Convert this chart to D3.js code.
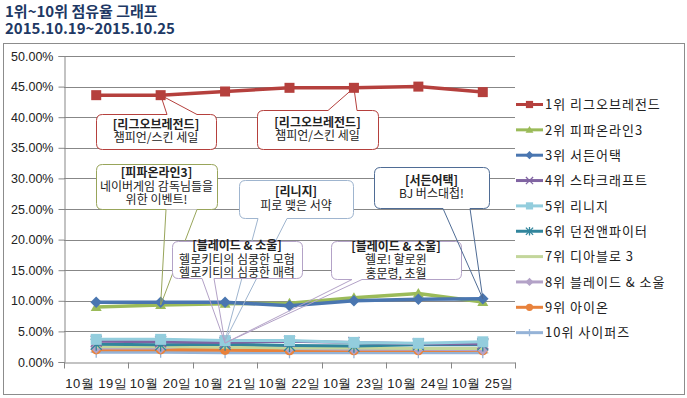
<!DOCTYPE html>
<html>
<head>
<meta charset="utf-8">
<title>1위~10위 점유율 그래프</title>
<script src="https://d3js.org/d3.v7.min.js"></script>
<style>
  body { margin: 0; background: #fff; }
  svg { display: block; font-family: "Noto Sans CJK KR", "Noto Sans", sans-serif; }
</style>
</head>
<body>
<div id="chart"></div>
<script>
// categories (x axis)
const days = ["10월 19일", "10월 20일", "10월 21일", "10월 22일", "10월 23일", "10월 24일", "10월 25일"];

// series names, top 10 games
const names = ["1위 리그오브레전드", "2위 피파온라인3", "3위 서든어택", "4위 스타크래프트", "5위 리니지",
               "6위 던전앤파이터", "7위 디아블로 3", "8위 블레이드 & 소울", "9위 아이온", "10위 사이퍼즈"];

// share values in percent
const lol       = [43.6, 43.6, 44.2, 44.8, 44.8, 45.0, 44.1];
const fifa      = [9.0, 9.3, 9.5, 9.6, 10.5, 11.2, 9.8];
const sudden    = [9.75, 9.75, 9.75, 9.2, 10.0, 10.25, 10.35];
const starcraft = [3.4, 3.3, 3.2, 3.4, 3.2, 3.0, 3.0];
const lineage   = [3.7, 3.7, 3.5, 3.5, 3.2, 3.05, 3.3];
const dnf       = [2.9, 2.8, 2.9, 2.7, 2.6, 2.8, 2.8];
const diablo    = [2.5, 2.5, 2.4, 2.3, 2.3, 2.2, 2.2];
const bns       = [2.3, 2.3, 3.1, 2.2, 2.1, 2.1, 2.0];
const aion      = [2.05, 2.05, 1.95, 1.9, 1.9, 1.9, 1.9];
const cyphers   = [1.6, 1.6, 1.5, 1.5, 1.5, 1.5, 1.5];

const values = [lol, fifa, sudden, starcraft, lineage, dnf, diablo, bns, aion, cyphers];

// y tick values (percent)
const yTicks = [0, 5, 10, 15, 20, 25, 30, 35, 40, 45, 50];

// callout notes: which series / day they point to and their text
const notes = [
  { s: 0, i: 1, lines: ["[리그오브레전드]", "챔피언/스킨 세일"] },
  { s: 0, i: 4, lines: ["[리그오브레전드]", "챔피언/스킨 세일"] },
  { s: 1, i: 1, lines: ["[피파온라인3]", "네이버게임 감독님들을", "위한 이벤트!"] },
  { s: 4, i: 2, lines: ["[리니지]", "피로 맺은 서약"] },
  { s: 7, i: 2, lines: ["[블레이드 & 소울]", "헬로키티의 심쿵한 모험", "헬로키티의 심쿵한 매력"] },
  { s: 7, i: 2, lines: ["[블레이드 & 소울]", "헬로! 할로윈", "홍문령, 초월"] },
  { s: 2, i: 6, lines: ["[서든어택]", "BJ 버스대첩!"] }
];

// ---- styling / layout ----
const colors = ["#b5403d", "#9bbb59", "#4a76b0", "#8064a2", "#93cddd", "#31859c", "#c3d69b", "#b3a2c7", "#e8823c", "#95b3d7"];
const markers = ["square", "triangle", "diamond", "x", "square", "asterisk", null, "diamond", "circle", "plus"];
const noteColors = ["#b5403d", "#b5403d", "#98a55a", "#9fb5cf", "#b3a2c7", "#b3a2c7", "#4f6c95"];
// box: x, y, w, h; base: the two x positions where the pointer leaves the edge; edge: top/bottom
const noteBoxes = [
  { x: 96, y: 114, w: 120, h: 35, edge: "top", base: [167, 197] },
  { x: 257, y: 110, w: 121, h: 39, edge: "top", base: [328, 357] },
  { x: 96, y: 164, w: 121, h: 45, edge: "bottom", base: [166, 197] },
  { x: 239, y: 180, w: 114, h: 38, edge: "bottom", base: [258, 287] },
  { x: 172, y: 241, w: 130, h: 37, edge: "bottom", base: [202, 214] },
  { x: 331, y: 241, w: 130, h: 38, edge: "bottom", base: [352, 362] },
  { x: 374, y: 167, w: 115, h: 41, edge: "bottom", base: [443, 470] }
];

const W = 687, H = 398;
const plot = { left: 64, right: 515, top: 56, bottom: 362 };

const svg = d3.select("#chart").append("svg")
  .attr("width", W).attr("height", H);

svg.append("rect").attr("width", W).attr("height", H).attr("fill", "#fff");

// title
const title = svg.append("g").attr("fill", "#203864").attr("font-weight", "bold").attr("font-size", 15);
title.append("text").attr("x", 5).attr("y", 17).text("1위~10위 점유율 그래프");
title.append("text").attr("x", 5).attr("y", 34).text("2015.10.19~2015.10.25");

// chart frame
svg.append("rect")
  .attr("x", 3.5).attr("y", 43.5).attr("width", 681).attr("height", 351)
  .attr("fill", "none").attr("stroke", "#8c8c8c");

const x = d3.scaleBand().domain(days).range([plot.left, plot.right]).padding(0);
const y = d3.scaleLinear().domain([0, 50]).range([plot.bottom, plot.top]);

// gridlines
svg.append("g").selectAll("line").data(yTicks.filter(d => d > 0)).join("line")
  .attr("x1", plot.left).attr("x2", plot.right)
  .attr("y1", d => Math.round(y(d)) + 0.5).attr("y2", d => Math.round(y(d)) + 0.5)
  .attr("stroke", "#878787");

// y axis
const yAxis = svg.append("g")
  .attr("transform", `translate(${plot.left + 0.5},0)`)
  .call(d3.axisLeft(y).tickValues(yTicks).tickSize(6).tickPadding(5).tickFormat(d => d.toFixed(2) + "%"));
yAxis.select(".domain").attr("stroke", "#878787");
yAxis.selectAll(".tick line").attr("stroke", "#878787");
yAxis.selectAll("text").attr("font-size", 12.5).attr("fill", "#222").style("font-family", "inherit");

// x axis
const xAxis = svg.append("g")
  .attr("transform", `translate(0,${plot.bottom + 0.5})`)
  .call(d3.axisBottom(x).tickSize(0).tickPadding(16));
xAxis.select(".domain").attr("stroke", "#878787");
xAxis.selectAll("text").attr("font-size", 13).attr("fill", "#222").attr("letter-spacing", 0.5).style("font-family", "inherit");
xAxis.selectAll(".bound").data(days.map(d => x(d)).concat([plot.right])).join("line")
  .attr("class", "bound")
  .attr("x1", d => Math.round(d) + 0.5).attr("x2", d => Math.round(d) + 0.5)
  .attr("y1", 0).attr("y2", 6).attr("stroke", "#878787");

// marker drawing helper
function drawMarker(g, type, color, r) {
  if (type === "square") {
    g.append("rect").attr("x", -r).attr("y", -r).attr("width", 2 * r).attr("height", 2 * r).attr("fill", color);
  } else if (type === "triangle") {
    g.append("path").attr("d", `M0,${-r * 1.1}L${r * 1.1},${r * 0.8}L${-r * 1.1},${r * 0.8}Z`).attr("fill", color);
  } else if (type === "diamond") {
    g.append("path").attr("d", `M0,${-r * 1.15}L${r * 1.15},0L0,${r * 1.15}L${-r * 1.15},0Z`).attr("fill", color);
  } else if (type === "circle") {
    g.append("circle").attr("r", r).attr("fill", color);
  } else if (type === "x" || type === "asterisk") {
    const p = `M${-r},${-r}L${r},${r}M${r},${-r}L${-r},${r}` + (type === "asterisk" ? `M0,${-r * 1.2}L0,${r * 1.2}` : "");
    g.append("path").attr("d", p).attr("stroke", color).attr("stroke-width", 1.3).attr("fill", "none");
  } else if (type === "plus") {
    g.append("path").attr("d", `M${-r},0L${r},0M0,${-r}L0,${r}`).attr("stroke", color).attr("stroke-width", 1.3);
  }
}

const cx = d => x(d) + x.bandwidth() / 2;
const line = d3.line().x((v, i) => cx(days[i])).y(v => y(v));

// series, drawn from the last one so the leaders sit on top
const order = [9, 8, 7, 6, 5, 3, 4, 1, 2, 0];
order.forEach(s => {
  const g = svg.append("g");
  g.append("path").datum(values[s])
    .attr("d", line).attr("fill", "none")
    .attr("stroke", colors[s]).attr("stroke-width", s < 3 || s === 8 ? 3.5 : 3)
    .attr("stroke-linejoin", "round");
  if (markers[s]) {
    values[s].forEach((v, i) => {
      const m = g.append("g").attr("transform", `translate(${cx(days[i])},${y(v)})`);
      drawMarker(m, markers[s], colors[s], s === 3 || s === 5 || s === 9 || s === 4 ? 5.5 : 5);
    });
  }
});

// callouts
notes.forEach((n, k) => {
  const b = noteBoxes[k];
  const tipX = cx(days[n.i]), tipY = y(values[n.s][n.i]);
  const r = 6, x0 = b.x + 0.5, y0 = b.y + 0.5, x1 = x0 + b.w, y1 = y0 + b.h;
  const g = svg.append("g");
  g.append("rect").attr("x", x0).attr("y", y0).attr("width", b.w).attr("height", b.h)
    .attr("rx", r).attr("fill", "#fff");
  let p;
  if (b.edge === "top") {
    p = `M${b.base[1]},${y0}L${x1 - r},${y0}Q${x1},${y0} ${x1},${y0 + r}L${x1},${y1 - r}Q${x1},${y1} ${x1 - r},${y1}` +
        `L${x0 + r},${y1}Q${x0},${y1} ${x0},${y1 - r}L${x0},${y0 + r}Q${x0},${y0} ${x0 + r},${y0}L${b.base[0]},${y0}` +
        `L${tipX},${tipY}Z`;
  } else {
    p = `M${b.base[0]},${y1}L${x0 + r},${y1}Q${x0},${y1} ${x0},${y1 - r}L${x0},${y0 + r}Q${x0},${y0} ${x0 + r},${y0}` +
        `L${x1 - r},${y0}Q${x1},${y0} ${x1},${y0 + r}L${x1},${y1 - r}Q${x1},${y1} ${x1 - r},${y1}L${b.base[1]},${y1}` +
        `L${tipX},${tipY}Z`;
  }
  g.append("path").attr("d", p).attr("fill", "none").attr("stroke", noteColors[k]).attr("stroke-width", 1);
  const lh = 13.5;
  const startY = b.y + b.h / 2 - (n.lines.length - 1) * lh / 2;
  const txt = g.append("text").attr("text-anchor", "middle")
    .attr("font-size", 12).attr("fill", "#222");
  n.lines.forEach((t, j) => {
    txt.append("tspan").attr("x", b.x + b.w / 2).attr("y", startY + j * lh)
      .attr("dy", "0.35em")
      .attr("font-weight", j === 0 ? "bold" : "normal")
      .text(t);
  });
});

// legend
const legend = svg.append("g");
names.forEach((nm, s) => {
  const ly = 104.5 + s * 25.35;
  const g = legend.append("g").attr("transform", `translate(0,${ly})`);
  g.append("line").attr("x1", 516).attr("x2", 543).attr("y1", 0).attr("y2", 0)
    .attr("stroke", colors[s]).attr("stroke-width", 3);
  if (markers[s]) {
    const m = g.append("g").attr("transform", "translate(529.5,0)");
    drawMarker(m, markers[s], colors[s], 3.6);
  }
  g.append("text").attr("x", 545).attr("y", 0).attr("dy", "0.36em")
    .attr("font-size", 13).attr("letter-spacing", 1).attr("fill", "#222").text(nm);
});
</script>
</body>
</html>
